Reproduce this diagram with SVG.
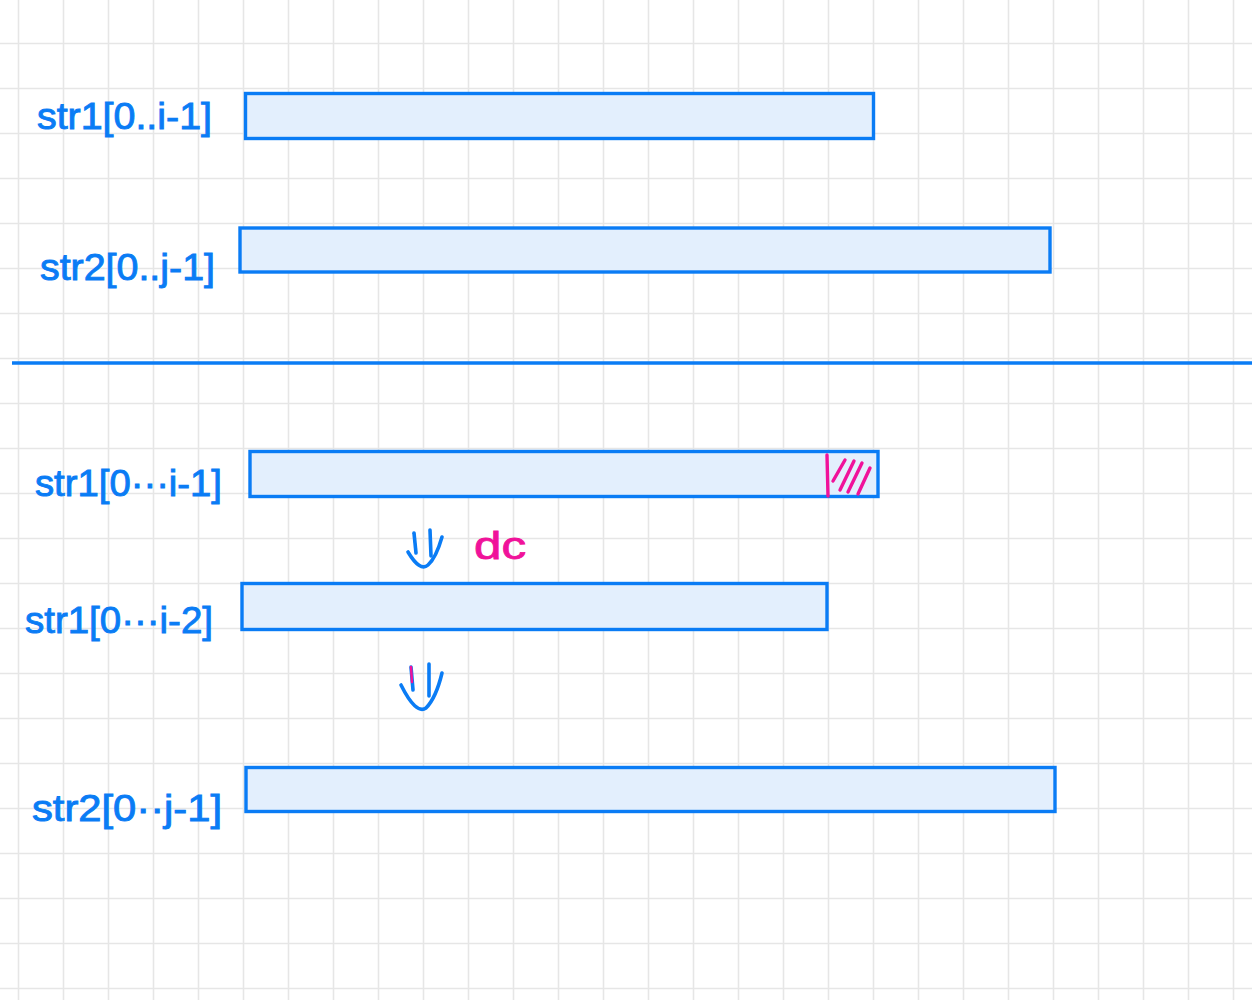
<svg xmlns="http://www.w3.org/2000/svg" width="1252" height="1000" viewBox="0 0 1252 1000">
<style>
.grid line{stroke:#e6e6e6;stroke-width:1.6}
.bar{fill:#e3effd;stroke:#0a7cf5;stroke-width:3.4}
.lbl{font-family:"Liberation Sans",Arial,sans-serif;font-size:36px;fill:#0a7cf5;stroke:#0a7cf5;stroke-width:0.9}
.pink{stroke:#f0129a;stroke-width:3.4;fill:none;stroke-linecap:round}
.arr{stroke:#0a7cf5;stroke-width:3.6;fill:none;stroke-linecap:round;stroke-linejoin:round}
</style>
<rect width="1252" height="1000" fill="#ffffff"/>
<g class="grid" id="grid">
<line x1="18.5" y1="0" x2="18.5" y2="1000"/><line x1="63.5" y1="0" x2="63.5" y2="1000"/><line x1="108.5" y1="0" x2="108.5" y2="1000"/><line x1="153.5" y1="0" x2="153.5" y2="1000"/><line x1="198.5" y1="0" x2="198.5" y2="1000"/><line x1="243.5" y1="0" x2="243.5" y2="1000"/><line x1="288.5" y1="0" x2="288.5" y2="1000"/><line x1="333.5" y1="0" x2="333.5" y2="1000"/><line x1="378.5" y1="0" x2="378.5" y2="1000"/><line x1="423.5" y1="0" x2="423.5" y2="1000"/><line x1="468.5" y1="0" x2="468.5" y2="1000"/><line x1="513.5" y1="0" x2="513.5" y2="1000"/><line x1="558.5" y1="0" x2="558.5" y2="1000"/><line x1="603.5" y1="0" x2="603.5" y2="1000"/><line x1="648.5" y1="0" x2="648.5" y2="1000"/><line x1="693.5" y1="0" x2="693.5" y2="1000"/><line x1="738.5" y1="0" x2="738.5" y2="1000"/><line x1="783.5" y1="0" x2="783.5" y2="1000"/><line x1="828.5" y1="0" x2="828.5" y2="1000"/><line x1="873.5" y1="0" x2="873.5" y2="1000"/><line x1="918.5" y1="0" x2="918.5" y2="1000"/><line x1="963.5" y1="0" x2="963.5" y2="1000"/><line x1="1008.5" y1="0" x2="1008.5" y2="1000"/><line x1="1053.5" y1="0" x2="1053.5" y2="1000"/><line x1="1098.5" y1="0" x2="1098.5" y2="1000"/><line x1="1143.5" y1="0" x2="1143.5" y2="1000"/><line x1="1188.5" y1="0" x2="1188.5" y2="1000"/><line x1="1233.5" y1="0" x2="1233.5" y2="1000"/>
<line x1="0" y1="43.5" x2="1252" y2="43.5"/><line x1="0" y1="88.5" x2="1252" y2="88.5"/><line x1="0" y1="133.5" x2="1252" y2="133.5"/><line x1="0" y1="178.5" x2="1252" y2="178.5"/><line x1="0" y1="223.5" x2="1252" y2="223.5"/><line x1="0" y1="268.5" x2="1252" y2="268.5"/><line x1="0" y1="313.5" x2="1252" y2="313.5"/><line x1="0" y1="358.5" x2="1252" y2="358.5"/><line x1="0" y1="403.5" x2="1252" y2="403.5"/><line x1="0" y1="448.5" x2="1252" y2="448.5"/><line x1="0" y1="493.5" x2="1252" y2="493.5"/><line x1="0" y1="538.5" x2="1252" y2="538.5"/><line x1="0" y1="583.5" x2="1252" y2="583.5"/><line x1="0" y1="628.5" x2="1252" y2="628.5"/><line x1="0" y1="673.5" x2="1252" y2="673.5"/><line x1="0" y1="718.5" x2="1252" y2="718.5"/><line x1="0" y1="763.5" x2="1252" y2="763.5"/><line x1="0" y1="808.5" x2="1252" y2="808.5"/><line x1="0" y1="853.5" x2="1252" y2="853.5"/><line x1="0" y1="898.5" x2="1252" y2="898.5"/><line x1="0" y1="943.5" x2="1252" y2="943.5"/><line x1="0" y1="988.5" x2="1252" y2="988.5"/>
</g>
<g id="divider"><line x1="12" y1="363" x2="1252" y2="363" stroke="#0a7cf5" stroke-width="3.4"/></g>
<g id="top-str1">
<rect class="bar" x="245.5" y="93.5" width="628" height="45"/>
<text class="lbl" x="37" y="129" textLength="175" lengthAdjust="spacingAndGlyphs">str1[0..i-1]</text>
</g>
<g id="top-str2">
<rect class="bar" x="240" y="228" width="810" height="44"/>
<text class="lbl" x="40" y="280" textLength="175" lengthAdjust="spacingAndGlyphs">str2[0..j-1]</text>
</g>
<g id="bot-str1">
<rect class="bar" x="250" y="451.5" width="628" height="45"/>
<text class="lbl" x="35" y="496" textLength="187" lengthAdjust="spacingAndGlyphs">str1[0···i-1]</text>
<g id="hatch">
<line class="pink" x1="827" y1="455" x2="828" y2="496"/>
<line class="pink" x1="833" y1="481" x2="845" y2="460"/>
<line class="pink" x1="840" y1="490" x2="854" y2="461"/>
<line class="pink" x1="848" y1="492" x2="862" y2="463"/>
<line class="pink" x1="858" y1="494" x2="870" y2="468"/>
</g>
</g>
<g id="dc-label"><text x="474" y="559" font-family="Liberation Sans,Arial,sans-serif" font-size="38" fill="#f0129a" stroke="#f0129a" stroke-width="0.8" textLength="52" lengthAdjust="spacingAndGlyphs">dc</text></g>
<g id="mid-str1">
<rect class="bar" x="242" y="583.5" width="585" height="46"/>
<text class="lbl" x="25" y="633" textLength="188" lengthAdjust="spacingAndGlyphs">str1[0···i-2]</text>
</g>
<g id="bot-str2">
<rect class="bar" x="246" y="767.5" width="809" height="44"/>
<text class="lbl" x="32" y="821" textLength="190" lengthAdjust="spacingAndGlyphs">str2[0··j-1]</text>
</g>
<g id="connectors">
<path class="arr" d="M414 533 L416 553"/>
<path class="arr" d="M430 530 L431 556"/>
<path class="arr" d="M408 552 Q420 572 428 565 Q436 558 442 537"/>
<path class="arr" d="M411 667 L413 690"/>
<path class="arr" d="M429 664 L429 696"/>
<path class="arr" d="M401 685 Q416 715 426 708 Q436 698 442 673"/>
<line x1="411" y1="667" x2="412" y2="682" stroke="#f0129a" stroke-width="2.5" stroke-linecap="round"/>
</g>
</svg>
